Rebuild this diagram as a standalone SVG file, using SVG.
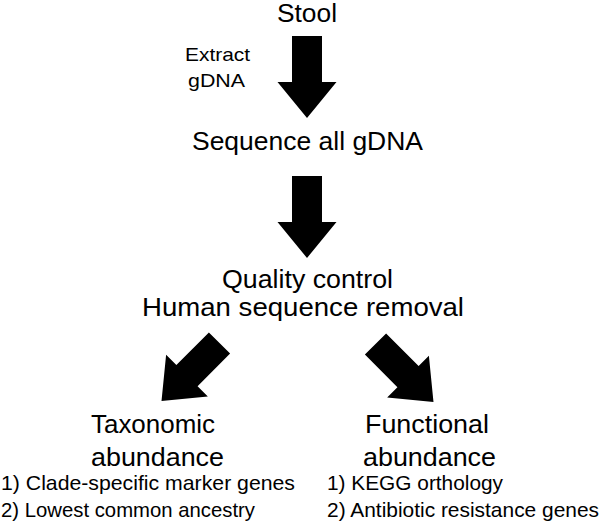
<svg xmlns="http://www.w3.org/2000/svg" width="600" height="530" viewBox="0 0 600 530">
<style>
text{font-family:"Liberation Sans",Arial,sans-serif;fill:#000}
.main{font-size:25px}
.sub{font-size:21px}
.lbl{font-size:19px}
</style>
<defs>
<polygon id="arrow" points="-15,0 15,0 15,46 29.5,46 0,82 -29.5,46 -15,46" fill="#000"/>
</defs>
<rect width="600" height="530" fill="#fff"/>
<g id="connectors">
<use href="#arrow" transform="translate(307,36)"/>
<use href="#arrow" transform="translate(307,176)"/>
<use href="#arrow" transform="translate(219.5,343) rotate(45)"/>
<use href="#arrow" transform="translate(375.5,344) rotate(-45)"/>
<text class="lbl" x="185" y="61" textLength="65" lengthAdjust="spacingAndGlyphs">Extract</text>
<text class="lbl" x="188" y="87" textLength="57" lengthAdjust="spacingAndGlyphs">gDNA</text>
</g>
<g id="stool"><text class="main" x="277" y="22" textLength="60" lengthAdjust="spacingAndGlyphs">Stool</text></g>
<g id="sequence"><text class="main" x="192" y="150" textLength="231" lengthAdjust="spacingAndGlyphs">Sequence all gDNA</text></g>
<g id="qc">
<text class="main" x="222" y="288" textLength="171" lengthAdjust="spacingAndGlyphs">Quality control</text>
<text class="main" x="142" y="316" textLength="322" lengthAdjust="spacingAndGlyphs">Human sequence removal</text>
</g>
<g id="taxonomic">
<text class="main" x="91" y="433" textLength="124" lengthAdjust="spacingAndGlyphs">Taxonomic</text>
<text class="main" x="91" y="466" textLength="133" lengthAdjust="spacingAndGlyphs">abundance</text>
<text class="sub" x="1" y="490" textLength="294" lengthAdjust="spacingAndGlyphs">1) Clade-specific marker genes</text>
<text class="sub" x="1" y="517" textLength="254" lengthAdjust="spacingAndGlyphs">2) Lowest common ancestry</text>
</g>
<g id="functional">
<text class="main" x="365" y="433" textLength="124" lengthAdjust="spacingAndGlyphs">Functional</text>
<text class="main" x="363" y="466" textLength="133" lengthAdjust="spacingAndGlyphs">abundance</text>
<text class="sub" x="327" y="490" textLength="176" lengthAdjust="spacingAndGlyphs">1) KEGG orthology</text>
<text class="sub" x="327" y="517" textLength="272" lengthAdjust="spacingAndGlyphs">2) Antibiotic resistance genes</text>
</g>
</svg>
